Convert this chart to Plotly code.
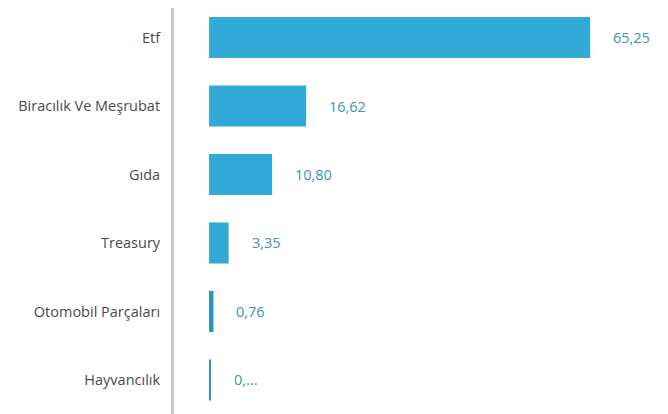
import plotly.graph_objects as go

categories = ["Etf", "Biracılık Ve Meşrubat", "Gıda", "Treasury", "Otomobil Parçaları", "Hayvancılık"]
values = [65.25, 16.62, 10.80, 3.35, 0.76, 0.30]
value_labels = ["65,25", "16,62", "10,80", "3,35", "0,76", "0,..."]
bar_colors = ["#33a9d8", "#33a9d8", "#33a9d8", "#33a9d8", "#2a93bf", "#2a93bf"]

fig = go.Figure()
fig.add_trace(go.Bar(
    x=values, y=categories, orientation="h",
    marker=dict(color=bar_colors, line=dict(width=0)),
    width=0.6, hoverinfo="skip",
))

for c, v, t in zip(categories, values, value_labels):
    fig.add_annotation(x=v, y=c, text=t, showarrow=False, xanchor="left",
                       xshift=21, font=dict(family="Open Sans", size=14.5, color="#3a92c2"))

fig.update_layout(
    width=668, height=414,
    margin=dict(l=166, r=0, t=0, b=8),
    paper_bgcolor="white", plot_bgcolor="white",
    showlegend=False,
    font=dict(family="Open Sans", size=14.5, color="#4a4a4a"),
    xaxis=dict(range=[-6, 79.96], visible=False, showgrid=False, zeroline=False),
    yaxis=dict(autorange=False, range=[5.497, -0.431], showline=True, linecolor="#c8c8c8", linewidth=3,
               showgrid=False, zeroline=False, ticks="outside", ticklen=8,
               tickcolor="rgba(0,0,0,0)", tickfont=dict(size=14.5, color="#4a4a4a")),
)

fig.write_html("out.html")
